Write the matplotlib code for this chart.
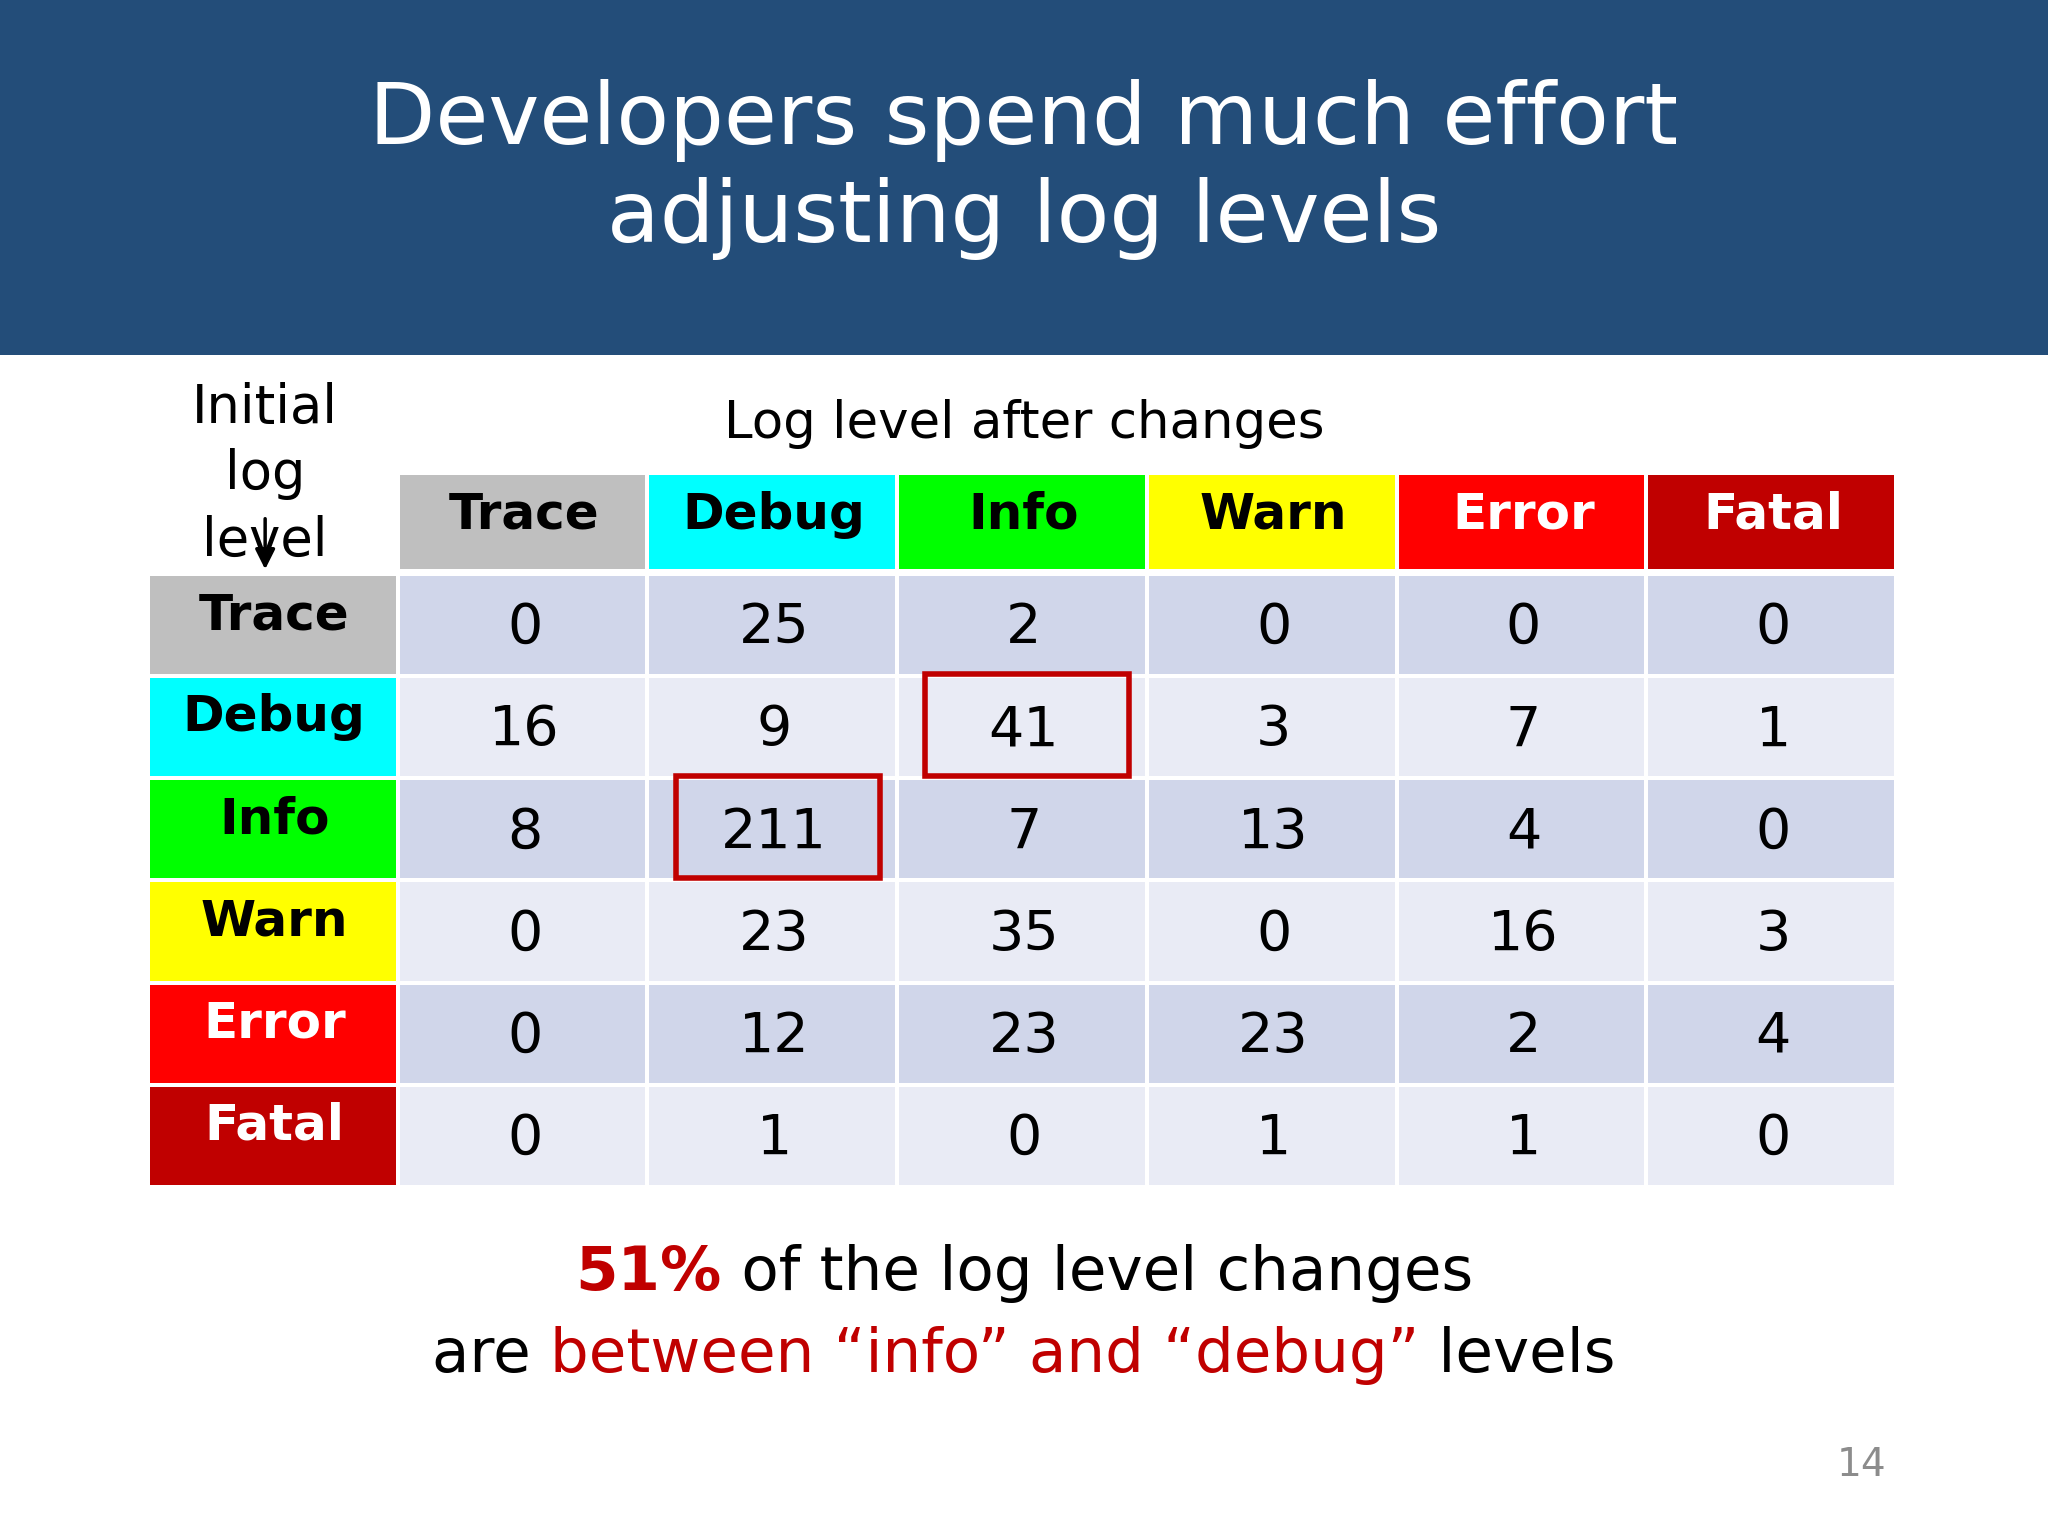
import matplotlib
matplotlib.use("Agg")
import matplotlib.pyplot as plt
from matplotlib.patches import Rectangle

levels = ["Trace", "Debug", "Info", "Warn", "Error", "Fatal"]
level_colors = ["#BFBFBF", "#00FFFF", "#00FF00", "#FFFF00", "#FF0000", "#C00000"]
label_colors = ["black", "black", "black", "black", "white", "white"]
values = [
    [0, 25, 2, 0, 0, 0],
    [16, 9, 41, 3, 7, 1],
    [8, 211, 7, 13, 4, 0],
    [0, 23, 35, 0, 16, 3],
    [0, 12, 23, 23, 2, 4],
    [0, 1, 0, 1, 1, 0],
]
highlight = [(1, 2), (2, 1)]

plt.rcParams['font.family'] = ['DejaVu Sans']
fig = plt.figure(figsize=(20.48, 15.36), dpi=100)
ax = fig.add_axes([0, 0, 1, 1])
ax.set_xlim(0, 1568); ax.set_ylim(1176, 0); ax.axis('off')

ax.add_patch(Rectangle((0, 0), 1568, 272, color="#234D79", lw=0))
ax.text(784, 92, "Developers spend much effort", color="white", fontsize=62, ha='center', va='center')
ax.text(784, 167, "adjusting log levels", color="white", fontsize=62, ha='center', va='center')

x0 = 115
hx, cw = 306, 191.2
ytop, hh = 364, 76
ry0, rh = 441, 78.2
for k, s in enumerate(["Initial", "log", "level"]):
    ax.text(203, 312 + 51 * k, s, fontsize=38, ha='center', va='center')
ax.annotate("", xy=(203, 438), xytext=(203, 395),
            arrowprops=dict(arrowstyle="-|>", color="black", lw=2.5, mutation_scale=30))
ax.text(784, 325, "Log level after changes", fontsize=37, ha='center', va='center')

for j, lv in enumerate(levels):
    x = hx + j * cw
    ax.add_patch(Rectangle((x, ytop), cw - 3, hh - 4, color=level_colors[j], lw=0))
    ax.text(x + cw / 2, ytop + 30, lv, fontsize=36, fontweight='bold', ha='center', va='center', color=label_colors[j])
for i, lv in enumerate(levels):
    y = ry0 + i * rh
    ax.add_patch(Rectangle((x0, y), 188, rh - 3, color=level_colors[i], lw=0))
    ax.text(x0 + 95, y + 30, lv, fontsize=36, fontweight='bold', ha='center', va='center', color=label_colors[i])
    for j in range(6):
        x = hx + j * cw
        ax.add_patch(Rectangle((x, y), cw - 3, rh - 3, color="#D0D6EA" if i % 2 == 0 else "#E9EBF5", lw=0))
        ax.text(x + cw / 2, y + 40, str(values[i][j]), fontsize=40, ha='center', va='center')
for (i, j) in highlight:
    x = hx + j * cw; y = ry0 + i * rh
    ax.add_patch(Rectangle((x + 20, y - 3), cw - 35, rh, fill=False, ec="#C00000", lw=4))

fig.canvas.draw()
r = fig.canvas.get_renderer()
inv = ax.transData.inverted()

def line(segs, y):
    ts, widths = [], []
    for s, c, w in segs:
        t = ax.text(0, y, s, fontsize=44, color=c, va='center', ha='left', fontweight=w)
        bb = t.get_window_extent(r)
        p0 = inv.transform((bb.x0, 0))[0]; p1 = inv.transform((bb.x1, 0))[0]
        ts.append(t); widths.append(p1 - p0)
    x = 784 - sum(widths) / 2
    for t, w in zip(ts, widths):
        t.set_x(x); x += w

line([("51%", "#C00000", "bold"), (" of the log level changes", "black", "normal")], 975)
line([("are ", "black", "normal"), ("between \u201cinfo\u201d and \u201cdebug\u201d", "#C00000", "normal"),
      (" levels", "black", "normal")], 1038)
ax.text(1425, 1122, "14", fontsize=28, color="#8C8C8C", ha='center', va='center')
fig.savefig("out.png", dpi=100)
